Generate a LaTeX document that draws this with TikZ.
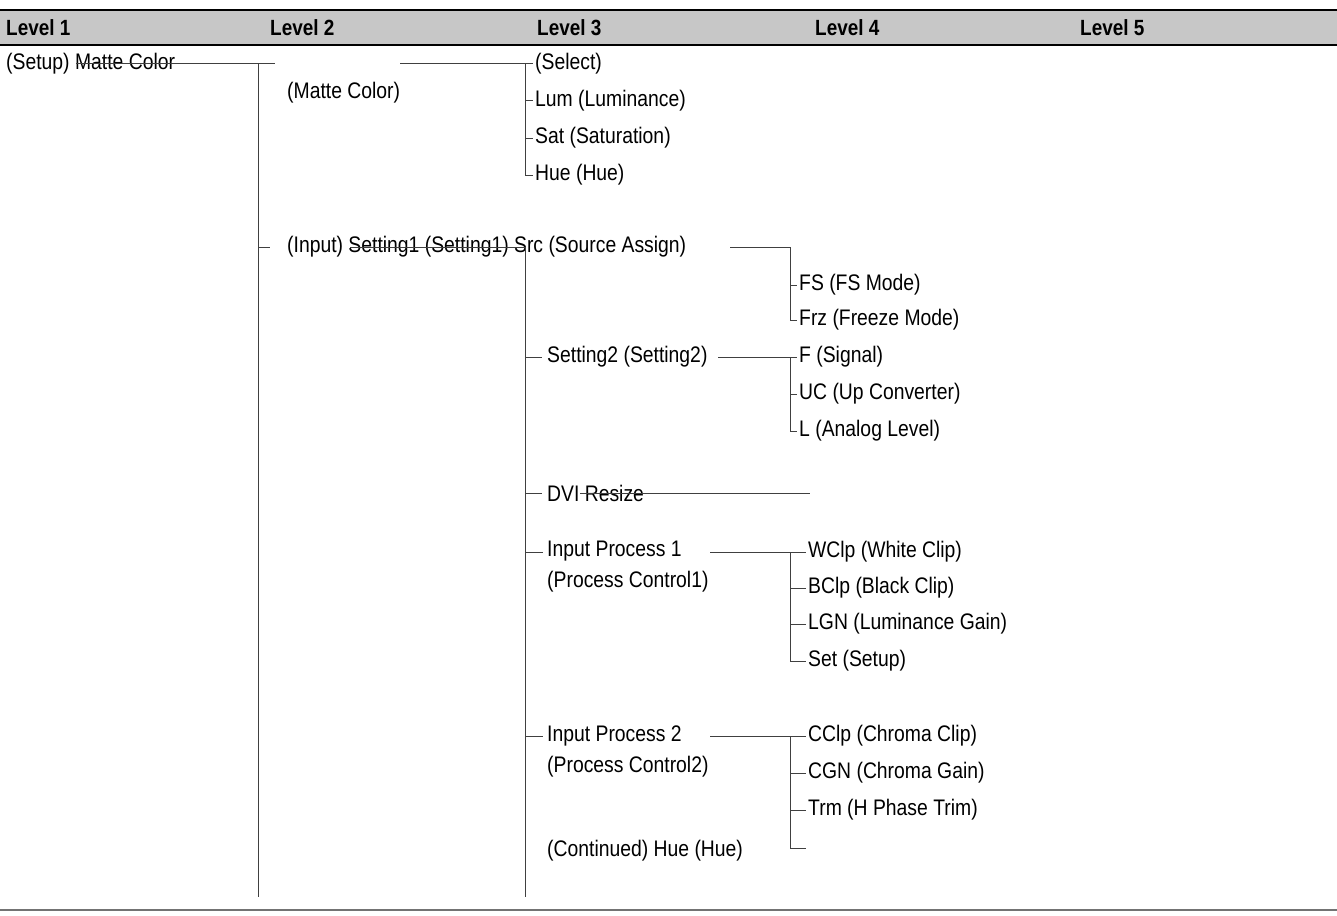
\documentclass[tikz,border=0pt]{standalone}
\usepackage{fontspec}
\setmainfont{Liberation Sans}[FakeStretch=0.86]
\begin{document}
\begin{tikzpicture}[x=1pt, y=-1pt,
    item/.style={anchor=west, inner ysep=0pt, inner xsep=2pt, font=\fontsize{22.5}{31}\selectfont},
    head/.style={anchor=west, inner sep=0pt, font=\fontsize{22}{26}\selectfont\bfseries},
    tree/.style={line width=1pt, black!75}]
    \useasboundingbox (0,0) rectangle (1337,915);
    % header band
    \fill[black!22] (0,10) rectangle (1337,45);
    \draw[line width=1.2pt] (0,10) -- (1337,10);
    \draw[line width=2.5pt] (0,45) -- (1337,45);
    \draw[line width=1.5pt, black!55] (0,910) -- (1337,910);
    \foreach \x/\n in {6/1, 270/2, 537/3, 815/4, 1080/5}
        \node[head] (lv\n) at (\x,28) {Level \n};

    % Level 1 and 2
    \node[item] (setup) at (4,64) {(Setup) Matte Color};
    \node[item] (matte) at (285,93) {(Matte Color)};
    \node[item] (input) at (285,247) {(Input) Setting1 (Setting1) Src (Source Assign)};
    \draw[tree] (76,64) -- (275,64);
    \draw[tree] (258,64) -- (258,897);
    \draw[tree] (258,247) -- (270,247);
    \draw[tree] (350,247) -- (525,247);

    % Level 3, matte color
    \node[item] (sel) at (533,64) {(Select)};
    \node[item] (lum) at (533,101) {Lum (Luminance)};
    \node[item] (sat) at (533,138) {Sat (Saturation)};
    \node[item] (hue) at (533,175) {Hue (Hue)};
    \draw[tree] (400,64) -- (sel.west);
    \draw[tree] (525,64) |- (hue.west);
    \foreach \n in {lum, sat} \draw[tree] (525,0 |- \n.west) -- (\n.west);

    % Level 3, input
    \node[item] (set2) at (545,357) {Setting2 (Setting2)};
    \node[item] (dvi) at (545,493) {DVI Resize};
    \node[item, align=left] (ip1) at (545,567) {Input Process 1\\(Process Control1)};
    \node[item, align=left] (ip2) at (545,751) {Input Process 2\\(Process Control2)};
    \node[item] (cont) at (545,851) {(Continued) Hue (Hue)};
    \draw[tree] (525,247) -- (525,897);
    \foreach \n in {set2, dvi} \draw[tree] (525,0 |- \n.west) -- ([xshift=-3pt]\n.west);
    \foreach \y in {552, 736} \draw[tree] (525,\y) -- (543,\y);
    \draw[tree] (580,493) -- (810,493);

    % Level 4
    \node[item] (fs) at (797,285) {FS (FS Mode)};
    \node[item] (frz) at (797,320) {Frz (Freeze Mode)};
    \draw[tree] (730,247) -- (790,247) |- (frz.west);
    \draw[tree] (790,285) -- (fs.west);

    \node[item] (sig) at (797,357) {F (Signal)};
    \node[item] (uc) at (797,394) {UC (Up Converter)};
    \node[item] (al) at (797,431) {L (Analog Level)};
    \draw[tree] (718,357) -- (sig.west);
    \draw[tree] (790,357) |- (al.west);
    \draw[tree] (790,394) -- (uc.west);

    \node[item] (wclp) at (806,552) {WClp (White Clip)};
    \node[item] (bclp) at (806,588) {BClp (Black Clip)};
    \node[item] (lgn) at (806,624) {LGN (Luminance Gain)};
    \node[item] (sset) at (806,661) {Set (Setup)};
    \draw[tree] (710,552) -- (wclp.west);
    \draw[tree] (790,552) |- (sset.west);
    \foreach \n in {bclp, lgn} \draw[tree] (790,0 |- \n.west) -- (\n.west);

    \node[item] (cclp) at (806,736) {CClp (Chroma Clip)};
    \node[item] (cgn) at (806,773) {CGN (Chroma Gain)};
    \node[item] (trm) at (806,810) {Trm (H Phase Trim)};
    \coordinate (cend) at (806,848);
    \draw[tree] (710,736) -- (cclp.west);
    \draw[tree] (790,736) |- (cend);
    \foreach \n in {cgn, trm} \draw[tree] (790,0 |- \n.west) -- (\n.west);
\end{tikzpicture}
\end{document}
